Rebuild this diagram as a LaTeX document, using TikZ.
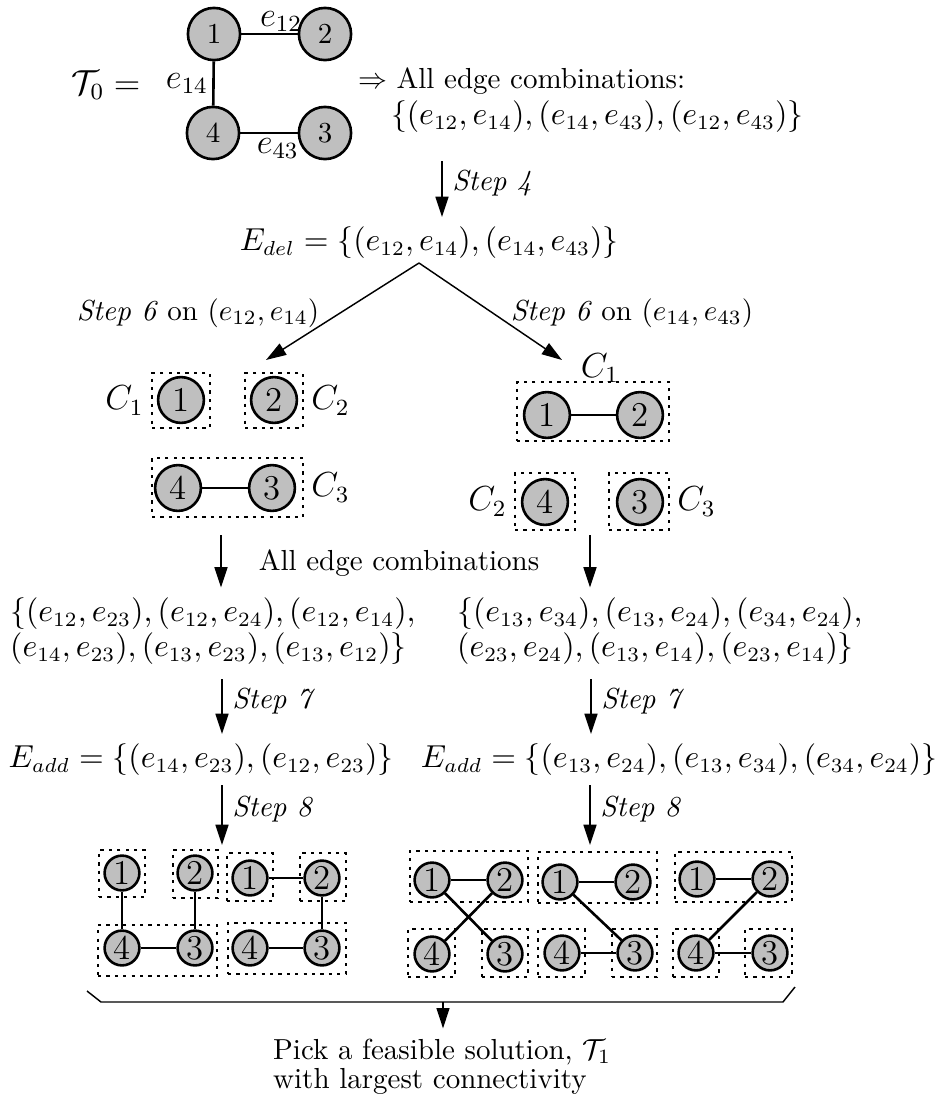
\documentclass[tikz,border=0pt]{standalone}
\usetikzlibrary{arrows.meta,fit}
\begin{document}
\begin{tikzpicture}[x=0.345pt,y=-0.345pt,
  vbig/.style={circle,draw,fill=black!25,line width=0.9pt,minimum size=18pt,inner sep=0pt},
  vmid/.style={circle,draw,fill=black!25,line width=0.9pt,minimum size=15.8pt,inner sep=0pt,font=\large},
  vsml/.style={circle,draw,fill=black!25,line width=0.9pt,minimum size=12pt,inner sep=0pt,font=\large},
  gedge/.style={line width=0.9pt},
  elab/.style={font=\large,inner sep=1.5pt},
  comp/.style={rectangle,draw,dash pattern=on 1.1pt off 1.8pt,line width=0.4pt,inner sep=0pt},
  flow/.style={-{Triangle[length=7pt,width=4.5pt]},line width=0.5pt},
  clab/.style={font=\large,inner sep=2.5pt},
  mth/.style={font=\fontsize{10.5}{12.5}\selectfont},
]
\useasboundingbox (0,0) rectangle (935,1109);

% ---------- top graph T0 ----------
\node[font=\large] (T0) at (106,85) {$\mathcal{T}_0 =$};
\node[vbig] (t1) at (214,34) {1};
\node[vbig] (t2) at (325,34) {2};
\node[vbig] (t4) at (213,133) {4};
\node[vbig] (t3) at (325,133) {3};
\draw[gedge] (t1) -- node[elab,above,inner sep=0.3pt,xshift=4pt] {$e_{12}$} (t2);
\draw[gedge] (t1) -- node[elab,left] {$e_{14}$} (t4);
\draw[gedge] (t4) -- node[elab,below,xshift=3pt] {$e_{43}$} (t3);

\node[anchor=west,inner sep=0.5pt] (all1) at (356,81) {$\Rightarrow$ All edge combinations:};
\node[anchor=west,inner sep=0.5pt,mth] (all2) at (389,117) {$\{(e_{12},e_{14}),(e_{14},e_{43}),(e_{12},e_{43})\}$};

% ---------- step 4 ----------
\coordinate (s4a) at (442,161);
\node[mth] (Edel) at (429,243) {$E_{del} = \{(e_{12},e_{14}),(e_{14},e_{43})\}$};
\draw[flow] (s4a) -- node[pos=0.4,right] {\textit{Step 4}} (s4a |- Edel.north);

% ---------- step 6 branches ----------
\coordinate (apex) at (419,263);
\coordinate (tipL) at (266,360);
\coordinate (tipR) at (562,360);
\draw[flow] (apex) -- (tipL);
\draw[flow] (apex) -- (tipR);
\node (s6L) at (198,313) {\textit{Step 6} on $(e_{12},e_{14})$};
\node (s6R) at (632,313) {\textit{Step 6} on $(e_{14},e_{43})$};

% ---------- left components ----------
\node[vmid] (L1) at (181,400) {1};
\node[vmid] (L2) at (274,400) {2};
\node[vmid] (L4) at (178,488) {4};
\node[vmid] (L3) at (272,488) {3};
\draw[gedge] (L4) -- (L3);
\node[comp,fit={(152,373) (210,428)}] (LC1) {};
\node[comp,fit={(245,373) (303,428)}] (LC2) {};
\node[comp,fit={(152,458) (303,517)}] (LC3) {};
\node[clab,anchor=east] at (LC1.west) {$C_1$};
\node[clab,anchor=west] at (LC2.east) {$C_2$};
\node[clab,anchor=west] at (LC3.east) {$C_3$};

% ---------- right components ----------
\node[vmid] (R1) at (547,415) {1};
\node[vmid] (R2) at (640,415) {2};
\node[vmid] (R4) at (545,502) {4};
\node[vmid] (R3) at (640,502) {3};
\draw[gedge] (R1) -- (R2);
\node[comp,fit={(517,382) (669,441)}] (RC1) {};
\node[comp,fit={(515,473) (575,530)}] (RC2) {};
\node[comp,fit={(609,473) (669,530)}] (RC3) {};
\node[clab] at (600,368) {$C_1$};
\node[clab,anchor=east] at (RC2.west) {$C_2$};
\node[clab,anchor=west] at (RC3.east) {$C_3$};

% ---------- all edge combinations ----------
\coordinate (aL) at (221,535);
\coordinate (aR) at (590,535);
\node (aec) at (399,563) {All edge combinations};
\node[anchor=west,align=left,font=\fontsize{10.5}{12}\selectfont] (setL) at (0,631)
  {$\{(e_{12},e_{23}),(e_{12},e_{24}),(e_{12},e_{14}),$\\$(e_{14},e_{23}),(e_{13},e_{23}),(e_{13},e_{12})\}$};
\node[anchor=west,align=left,font=\fontsize{10.5}{12}\selectfont] (setR) at (447,631)
  {$\{(e_{13},e_{34}),(e_{13},e_{24}),(e_{34},e_{24}),$\\$(e_{23},e_{24}),(e_{13},e_{14}),(e_{23},e_{14})\}$};
\draw[flow] (aL) -- (aL |- setL.north);
\draw[flow] (aR) -- (aR |- setR.north);

% ---------- step 7 ----------
\coordinate (b7L) at (222,679);
\coordinate (b7R) at (591,679);
\node[mth] (EaddL) at (201,760) {$E_{add} = \{(e_{14},e_{23}),(e_{12},e_{23})\}$};
\node[mth] (EaddR) at (679,760) {$E_{add} = \{(e_{13},e_{24}),(e_{13},e_{34}),(e_{34},e_{24})\}$};
\draw[flow] (b7L) -- node[pos=0.4,right] {\textit{Step 7}} (b7L |- EaddL.north);
\draw[flow] (b7R) -- node[pos=0.4,right] {\textit{Step 7}} (b7R |- EaddR.north);

% ---------- step 8 ----------
\coordinate (c8L) at (222,785);
\coordinate (d8L) at (222,845);
\coordinate (c8R) at (590,785);
\coordinate (d8R) at (590,845);
\draw[flow] (c8L) -- node[pos=0.4,right] {\textit{Step 8}} (d8L);
\draw[flow] (c8R) -- node[pos=0.4,right] {\textit{Step 8}} (d8R);

% ---------- graph A ----------
\node[vsml] (A1) at (122,873) {1};
\node[vsml] (A2) at (195,873) {2};
\node[vsml] (A4) at (122,948) {4};
\node[vsml] (A3) at (195,948) {3};
\draw[gedge] (A1) -- (A4);
\draw[gedge] (A4) -- (A3);
\draw[gedge] (A2) -- (A3);
\node[comp,fit={(99,850) (145,897)}] (Ab1) {};
\node[comp,fit={(173,850) (218,898)}] (Ab2) {};
\node[comp,fit={(98,925) (217,976)}] (Ab3) {};

% ---------- graph B ----------
\node[vsml] (B1) at (250,878) {1};
\node[vsml] (B2) at (322,878) {2};
\node[vsml] (B4) at (250,948) {4};
\node[vsml] (B3) at (322,948) {3};
\draw[gedge] (B1) -- (B2);
\draw[gedge] (B2) -- (B3);
\draw[gedge] (B4) -- (B3);
\node[comp,fit={(227,853) (273,901)}] (Bb1) {};
\node[comp,fit={(300,853) (346,901)}] (Bb2) {};
\node[comp,fit={(228,923) (346,974)}] (Bb3) {};

% ---------- graph C ----------
\node[vsml] (C1) at (432,880) {1};
\node[vsml] (C2) at (505,880) {2};
\node[vsml] (C4) at (432,954) {4};
\node[vsml] (C3) at (505,954) {3};
\draw[gedge] (C1) -- (C2);
\draw[gedge] (C1) -- (C3);
\draw[gedge] (C2) -- (C4);
\node[comp,fit={(410,851) (528,902)}] (Cb1) {};
\node[comp,fit={(408,929) (455,977)}] (Cb2) {};
\node[comp,fit={(482,929) (528,977)}] (Cb3) {};

% ---------- graph D ----------
\node[vsml] (D1) at (560,882) {1};
\node[vsml] (D2) at (633,882) {2};
\node[vsml] (D4) at (562,953) {4};
\node[vsml] (D3) at (635,953) {3};
\draw[gedge] (D1) -- (D2);
\draw[gedge] (D1) -- (D3);
\draw[gedge] (D4) -- (D3);
\node[comp,fit={(538,852) (657,903)}] (Db1) {};
\node[comp,fit={(538,929) (585,977)}] (Db2) {};
\node[comp,fit={(612,929) (657,977)}] (Db3) {};

% ---------- graph E ----------
\node[vsml] (E1) at (697,879) {1};
\node[vsml] (E2) at (770,879) {2};
\node[vsml] (E4) at (696,953) {4};
\node[vsml] (E3) at (770,953) {3};
\draw[gedge] (E1) -- (E2);
\draw[gedge] (E2) -- (E4);
\draw[gedge] (E4) -- (E3);
\node[comp,fit={(675,852) (792,902)}] (Eb1) {};
\node[comp,fit={(673,929) (719,977)}] (Eb2) {};
\node[comp,fit={(745,929) (792,977)}] (Eb3) {};

% ---------- brace and result ----------
\coordinate (brA) at (87,991);
\coordinate (brB) at (101,1002);
\coordinate (brC) at (783,1002);
\coordinate (brD) at (795,987);
\coordinate (brM) at (443,1002);
\draw[line width=0.5pt] (brA) -- (brB) -- (brC) -- (brD);
\node[anchor=base west] (res1) at (263,1059) {Pick a feasible solution, $\mathcal{T}_1$};
\node[anchor=base west] (res2) at (263,1088) {with largest connectivity};
\draw[flow] (brM) -- (brM |- res1.north);
\end{tikzpicture}
\end{document}
